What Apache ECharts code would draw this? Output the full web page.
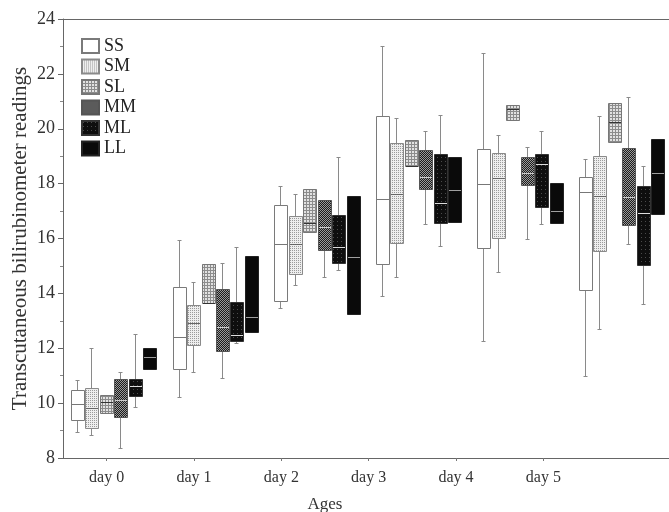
<!DOCTYPE html>
<html>
<head>
<meta charset="utf-8">
<script src="https://cdn.jsdelivr.net/npm/echarts@6/dist/echarts.min.js"></script>
<style>
  html, body { margin: 0; padding: 0; background: #fff; }
  #chart { width: 669px; height: 512px; }
</style>
</head>
<body>
<div id="chart"></div>
<script>
// Day labels on the category axis
const days = ['day 0', 'day 1', 'day 2', 'day 3', 'day 4', 'day 5'];
const yTicks = { min: 8, max: 24, step: 2 };

// Box statistics per day: [min, Q1, median, Q3, max]
const ssStats = [
  [8.96, 9.39, 9.96, 10.48, 10.83],
  [10.22, 11.24, 12.41, 14.24, 15.96],
  [13.46, 13.71, 15.79, 17.21, 17.90],
  [13.92, 15.07, 17.43, 20.47, 23.00],
  [12.27, 15.64, 17.98, 19.25, 22.75],
  [11.00, 14.12, 17.68, 18.25, 18.90]
];
const smStats = [
  [8.84, 9.08, 9.83, 10.55, 12.02],
  [11.15, 12.12, 12.93, 13.57, 14.43],
  [14.31, 14.70, 15.81, 16.83, 17.62],
  [14.61, 15.83, 17.61, 19.47, 20.38],
  [14.77, 16.01, 18.22, 19.13, 19.78],
  [12.71, 15.55, 17.55, 19.02, 20.47]
];
const slStats = [
  [9.63, 9.63, 10.05, 10.29, 10.29],
  [13.65, 13.65, 13.65, 15.07, 15.07],
  [16.25, 16.25, 16.55, 17.80, 17.80],
  [18.63, 18.63, 18.63, 19.58, 19.58],
  [20.32, 20.32, 20.71, 20.87, 20.87],
  [19.51, 19.51, 20.25, 20.93, 20.93]
];
const mmStats = [
  [8.35, 9.51, 10.10, 10.89, 11.12],
  [10.91, 11.90, 12.79, 14.16, 15.10],
  [14.61, 15.58, 16.42, 17.40, 17.45],
  [16.53, 17.79, 18.24, 19.21, 19.92],
  [16.00, 17.95, 18.40, 18.96, 19.34],
  [15.80, 16.49, 17.50, 19.31, 21.17]
];
const mlStats = [
  [9.85, 10.25, 10.61, 10.89, 12.53],
  [12.20, 12.28, 12.47, 13.70, 15.69],
  [14.85, 15.10, 15.68, 16.85, 18.97],
  [15.73, 16.55, 17.31, 19.07, 20.51],
  [16.54, 17.16, 18.72, 19.07, 19.92],
  [13.61, 15.02, 16.93, 17.93, 18.65]
];
const llStats = [
  [11.26, 11.26, 11.67, 12.02, 12.02],
  [12.60, 12.60, 13.14, 15.35, 15.35],
  [13.26, 13.26, 15.34, 17.56, 17.56],
  [16.60, 16.60, 17.78, 18.96, 18.96],
  [16.57, 16.57, 16.99, 18.01, 18.01],
  [16.90, 16.90, 18.38, 19.64, 19.64]
];

const FONT = '"Liberation Serif", "Times New Roman", serif';

// Small tiled canvases used as hatch fills
function makePattern(size, draw) {
  const c = document.createElement('canvas');
  c.width = c.height = size;
  const ctx = c.getContext('2d');
  draw(ctx, size);
  return { image: c, repeat: 'repeat' };
}
const fillSM = makePattern(2, (ctx) => {
  ctx.fillStyle = '#eeeeee'; ctx.fillRect(0, 0, 2, 2);
  ctx.fillStyle = '#9a9a9a'; ctx.fillRect(0, 0, 1, 1);
});
const fillSL = makePattern(3, (ctx) => {
  ctx.fillStyle = '#e2e2e2'; ctx.fillRect(0, 0, 3, 3);
  ctx.fillStyle = '#8c8c8c'; ctx.fillRect(0, 0, 3, 1); ctx.fillRect(0, 0, 1, 3);
});
const fillMM = makePattern(2, (ctx) => {
  ctx.fillStyle = '#1c1c1c'; ctx.fillRect(0, 0, 2, 2);
  ctx.fillStyle = '#9a9a9a'; ctx.fillRect(0, 0, 1, 1); ctx.fillRect(1, 1, 1, 1);
});
const fillML = makePattern(4, (ctx) => {
  ctx.fillStyle = '#0e0e0e'; ctx.fillRect(0, 0, 4, 4);
  ctx.fillStyle = '#4a4a4a'; ctx.fillRect(1, 1, 1, 1);
});

const groups = [
  { name: 'SS', stats: ssStats, fill: '#ffffff', border: '#7a7a7a', median: '#777777' },
  { name: 'SM', stats: smStats, fill: fillSM, border: '#8a8a8a', median: '#666666' },
  { name: 'SL', stats: slStats, fill: fillSL, border: '#777777', median: '#333333' },
  { name: 'MM', stats: mmStats, fill: fillMM, border: '#555555', median: '#cccccc' },
  { name: 'ML', stats: mlStats, fill: fillML, border: '#333333', median: '#dddddd' },
  { name: 'LL', stats: llStats, fill: '#0a0a0a', border: '#222222', median: '#a0a0a0' }
];

const WHISKER = '#8a8a8a';

function boxRenderer(j, g) {
  return function (params, api) {
    const day = api.value(0);
    const unit = api.size([1, 0])[0];
    const cx = Math.round(api.coord([day, 0])[0] + (j - 2.5) * unit * 0.1425) + 0.5;
    const half = unit * 0.0625;
    const yAt = (k) => Math.round(api.coord([day, api.value(k)])[1]) + 0.5;
    const yMin = yAt(1), yQ1 = yAt(2), yMed = yAt(3), yQ3 = yAt(4), yMax = yAt(5);
    const x0 = Math.round(cx - half), x1 = Math.round(cx + half);
    const cap = 2;
    const children = [];
    const line = (xa, ya, xb, yb, color) => ({
      type: 'line', shape: { x1: xa, y1: ya, x2: xb, y2: yb },
      style: { stroke: color, lineWidth: 1 }, silent: true
    });
    if (yMax < yQ3 - 1) {
      children.push(line(cx, yQ3, cx, yMax, WHISKER));
      children.push(line(cx - cap, yMax, cx + cap, yMax, WHISKER));
    }
    if (yMin > yQ1 + 1) {
      children.push(line(cx, yQ1, cx, yMin, WHISKER));
      children.push(line(cx - cap, yMin, cx + cap, yMin, WHISKER));
    }
    children.push({
      type: 'rect',
      shape: { x: x0 + 0.5, y: yQ3, width: x1 - x0, height: yQ1 - yQ3 },
      style: { fill: g.fill, stroke: g.border, lineWidth: 1 }
    });
    children.push(line(x0 + 1, yMed, x1, yMed, g.median));
    return { type: 'group', children };
  };
}

const series = groups.map((g, j) => ({
  type: 'custom',
  name: g.name,
  xAxisIndex: 1,
  yAxisIndex: 1,
  itemStyle: { color: g.fill, borderColor: g.border, borderWidth: 1 },
  encode: { x: 0, y: [1, 2, 3, 4, 5] },
  data: g.stats.map((s, i) => [i].concat(s)),
  renderItem: boxRenderer(j, g)
}));

const chart = echarts.init(document.getElementById('chart'), null, { renderer: 'canvas' });
chart.setOption({
  animation: false,
  backgroundColor: '#ffffff',
  textStyle: { fontFamily: FONT },
  grid: [
    { left: 63, right: 82, top: 19, bottom: 54, outerBoundsMode: 'none', containLabel: false },
    { left: 63, right: 0, top: 19, bottom: 54, outerBoundsMode: 'none', containLabel: false }
  ],
  legend: {
    orient: 'vertical',
    left: 76,
    top: 32,
    icon: 'rect',
    itemWidth: 17,
    itemHeight: 14,
    itemGap: 2.5,
    selectedMode: false,
    textStyle: { fontFamily: FONT, fontSize: 18, color: '#222' },
    data: groups.map((g) => g.name)
  },
  xAxis: [
    {
      type: 'category',
      gridIndex: 0,
      data: days,
      boundaryGap: true,
      name: 'Ages',
      nameLocation: 'middle',
      nameGap: 38,
      nameTextStyle: { fontFamily: FONT, fontSize: 17, color: '#333' },
      axisLine: { show: false },
      axisTick: { show: true, alignWithLabel: true, length: 3, lineStyle: { color: '#777' } },
      axisLabel: { margin: 12, fontFamily: FONT, fontSize: 16, color: '#333' },
      splitLine: { show: false }
    },
    {
      type: 'value',
      gridIndex: 1,
      min: -0.494,
      max: 5.471,
      axisLine: { show: true, lineStyle: { color: '#666' } },
      axisTick: { show: false },
      axisLabel: { show: false },
      splitLine: { show: false }
    },
    {
      type: 'value',
      gridIndex: 1,
      position: 'top',
      min: -0.494,
      max: 5.471,
      axisLine: { show: true, lineStyle: { color: '#666' } },
      axisTick: { show: false },
      axisLabel: { show: false },
      splitLine: { show: false }
    }
  ],
  yAxis: [
    {
      type: 'value',
      gridIndex: 0,
      min: yTicks.min,
      max: yTicks.max,
      interval: yTicks.step,
      name: 'Transcutaneous bilirubinometer readings',
      nameLocation: 'middle',
      nameGap: 32,
      nameMoveOverlap: false,
      nameTextStyle: { fontFamily: FONT, fontSize: 21, color: '#333' },
      axisLine: { show: true, lineStyle: { color: '#666' } },
      axisTick: { show: true, length: 5, lineStyle: { color: '#666' } },
      minorTick: { show: true, splitNumber: 2, length: 3, lineStyle: { color: '#888' } },
      axisLabel: { margin: 8, fontFamily: FONT, fontSize: 18, color: '#333' },
      splitLine: { show: false }
    },
    {
      type: 'value',
      gridIndex: 1,
      min: yTicks.min,
      max: yTicks.max,
      show: false
    }
  ],
  series
});
</script>
</body>
</html>
